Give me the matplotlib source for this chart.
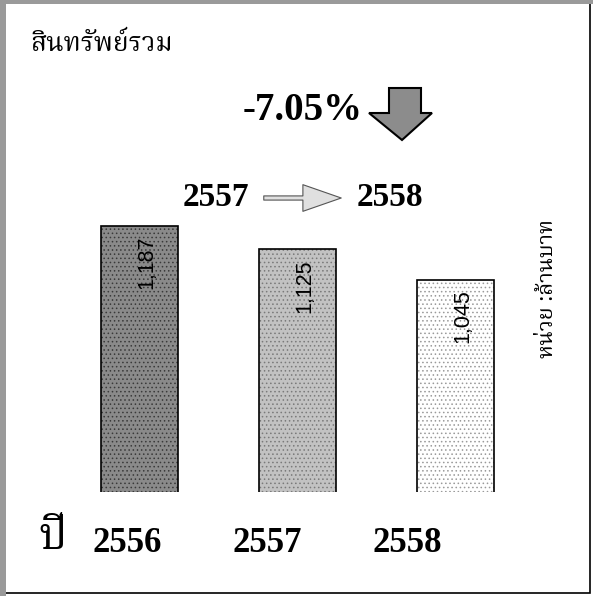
import matplotlib
matplotlib.use("Agg")
import matplotlib.pyplot as plt
from matplotlib import font_manager
from matplotlib.ft2font import FT2Font
from matplotlib.patches import Polygon, Rectangle, FancyArrowPatch

# data
years = ["2556", "2557", "2558"]
assets = [1187, 1125, 1045]
value_labels = ["1,187", "1,125", "1,045"]
change_text = "-7.05%"
title = "สินทรัพย์รวม"
unit_text = "หน่วย :ล้านบาท"
year_word = "ปี"

bar_colors = ["#8a8a8a", "#c2c2c2", "#ffffff"]
hatch_colors = ["#3a3a3a", "#7a7a7a", "#9a9a9a"]


def find_thai_font():
    """ Look for any installed font that has Thai glyphs.
    """
    found = []
    for f in font_manager.fontManager.ttflist:
        try:
            if 0x0E2A in FT2Font(f.fname).get_charmap():
                found.append(f.name)
        except Exception:
            pass
    for pref in ["Noto Serif Thai", "Noto Sans Thai", "Loma", "Garuda", "Norasi"]:
        if pref in found:
            return pref
    return found[0] if found else "DejaVu Sans"


thai_font = find_thai_font()
serif = ["Liberation Serif", "DejaVu Serif"]

W, H = 593, 596
fig = plt.figure(figsize=(W / 100, H / 100), dpi=100)
fig.patch.set_facecolor("white")


def fx(px):
    return px / W


def fy(py):
    return 1 - py / H


# bars
ax = fig.add_axes([fx(60.5), fy(492), fx(474), 289.5 / H])
x = list(range(len(assets)))
plt.rcParams["hatch.linewidth"] = 0.6
for i in x:
    ax.bar(i, assets[i], width=0.49, bottom=0, color=bar_colors[i],
           edgecolor=hatch_colors[i], hatch="....", linewidth=0)
    ax.bar(i, assets[i], width=0.49, bottom=0, fill=False,
           edgecolor="black", linewidth=1.2)
    ax.annotate(value_labels[i], (i, assets[i]), xytext=(5, -7),
                textcoords="offset points", rotation=90, ha="center", va="top",
                fontsize=15.5, family="Liberation Sans", color="black")
ax.set_xlim(-0.5, 2.5)
ax.set_ylim(480, 1250)
ax.axis("off")

# year labels along the bottom
year_label_x = [127.5, 267, 407.5]
for lx, yr in zip(year_label_x, years):
    fig.text(fx(lx), fy(543), yr, ha="center", va="center", fontsize=25,
             family=serif, weight="bold")
fig.text(fx(53), fy(538), year_word, ha="center", va="center", fontsize=32,
         family=[thai_font, "DejaVu Sans"], weight="bold")

# title and unit
fig.text(fx(30), fy(44), title, ha="left", va="center", fontsize=19,
         family=[thai_font, "DejaVu Sans"])
fig.text(fx(547), fy(289), unit_text, ha="center", va="center", fontsize=15.5,
         rotation=90, family=[thai_font, "DejaVu Sans"])

# change annotation
fig.text(fx(303), fy(110), change_text, ha="center", va="center", fontsize=28,
         family=serif, weight="bold")
arrow = [(389, 88), (421, 88), (421, 113), (432, 113), (402, 140),
         (369, 113), (389, 113)]
fig.patches.append(Polygon([(fx(a), fy(b)) for a, b in arrow], closed=True,
                           transform=fig.transFigure, facecolor="#8c8c8c",
                           edgecolor="black", linewidth=1.5))

fig.text(fx(216), fy(197), years[1], ha="center", va="center", fontsize=24,
         family=serif, weight="bold")
fig.text(fx(390), fy(197), years[2], ha="center", va="center", fontsize=24,
         family=serif, weight="bold")
fig.patches.append(FancyArrowPatch((fx(261), fy(198)), (fx(344), fy(198)),
                                   transform=fig.transFigure,
                                   arrowstyle="simple,head_width=1.6,head_length=2.3,tail_width=0.25",
                                   mutation_scale=12, facecolor="#e0e0e0",
                                   edgecolor="#555555", linewidth=0.8))

# frame around the picture
fig.patches.append(Rectangle((fx(4), fy(593)), fx(586), (593 - 3) / H,
                             transform=fig.transFigure, fill=False,
                             edgecolor="black", linewidth=1.2))
fig.patches.append(Rectangle((0, 0), fx(6), 1, transform=fig.transFigure,
                             facecolor="#9a9a9a", edgecolor="none"))
fig.patches.append(Rectangle((0, fy(4)), 1, 4 / H, transform=fig.transFigure,
                             facecolor="#9a9a9a", edgecolor="none"))

fig.savefig("out.png", dpi=100)
